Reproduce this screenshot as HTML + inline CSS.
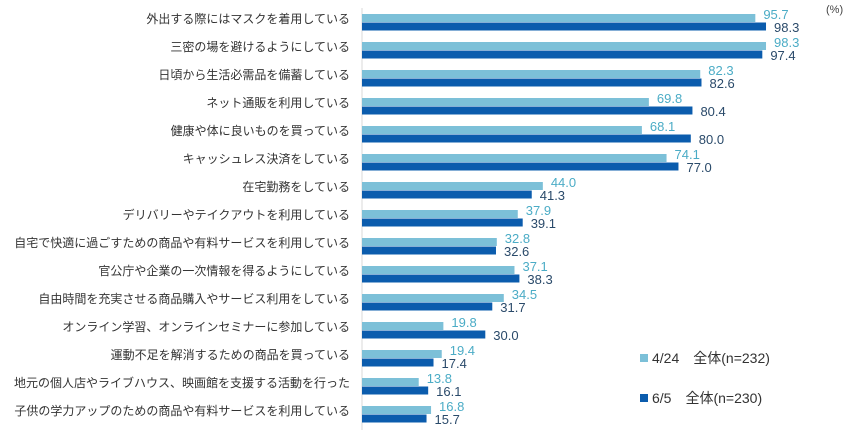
<!DOCTYPE html>
<html><head><meta charset="utf-8"><style>
body{margin:0;background:#fff;font-family:"Liberation Sans","Noto Sans CJK JP",sans-serif;}
svg text{font-family:"Liberation Sans","Noto Sans CJK JP",sans-serif;}
</style></head><body>
<svg id="c" width="850" height="435" xmlns="http://www.w3.org/2000/svg">
<text x="826" y="13" font-size="11" fill="#444">(%)</text>
<line x1="362" y1="8" x2="362" y2="430" stroke="#d9d9d9"/>
<g id="bars"></g>
<rect x="640" y="354" width="8" height="8" fill="#7cc0d8"/>
<text x="652" y="363" font-size="14" fill="#333">4/24　全体(n=232)</text>
<rect x="640" y="394" width="8" height="8" fill="#0b5cad"/>
<text x="652" y="403" font-size="14" fill="#333">6/5　全体(n=230)</text>
</svg>
<script>
const categories=["外出する際にはマスクを着用している","三密の場を避けるようにしている","日頃から生活必需品を備蓄している","ネット通販を利用している","健康や体に良いものを買っている","キャッシュレス決済をしている","在宅勤務をしている","デリバリーやテイクアウトを利用している","自宅で快適に過ごすための商品や有料サービスを利用している","官公庁や企業の一次情報を得るようにしている","自由時間を充実させる商品購入やサービス利用をしている","オンライン学習、オンラインセミナーに参加している","運動不足を解消するための商品を買っている","地元の個人店やライブハウス、映画館を支援する活動を行った","子供の学力アップのための商品や有料サービスを利用している"];
const april=[95.7,98.3,82.3,69.8,68.1,74.1,44.0,37.9,32.8,37.1,34.5,19.8,19.4,13.8,16.8];
const june=[98.3,97.4,82.6,80.4,80.0,77.0,41.3,39.1,32.6,38.3,31.7,30.0,17.4,16.1,15.7];
const NS="http://www.w3.org/2000/svg";
const g=document.getElementById('bars');
const x0=362, k=4.11;
const xs=v=>x0+v*k;
const yRow=i=>14+i*28;
function mk(t,a){const e=document.createElementNS(NS,t);for(const n in a)e.setAttribute(n,a[n]);g.appendChild(e);return e;}
categories.forEach((c,i)=>{
 const y=yRow(i);
 const l=mk('text',{x:350,y:y+9,'font-size':12,fill:'#333','text-anchor':'end'});
 l.textContent=c;
 
 
 const a=mk('rect',{x:x0,y:y,width:xs(april[i])-x0,height:8,fill:'#7cc0d8'});
 
 
 const b=mk('rect',{x:x0,y:y+8.5,width:xs(june[i])-x0,height:8,fill:'#0b5cad'});
 
 
 const ta=mk('text',{x:xs(april[i])+8,y:y+5,'font-size':13,fill:'#4bacc6'});
 ta.textContent=april[i].toFixed(1);
 
 
 const tb=mk('text',{x:xs(june[i])+8,y:y+18,'font-size':13,fill:'#2a4a6a'});
 tb.textContent=june[i].toFixed(1);
 
 
});
</script>
</body></html>
